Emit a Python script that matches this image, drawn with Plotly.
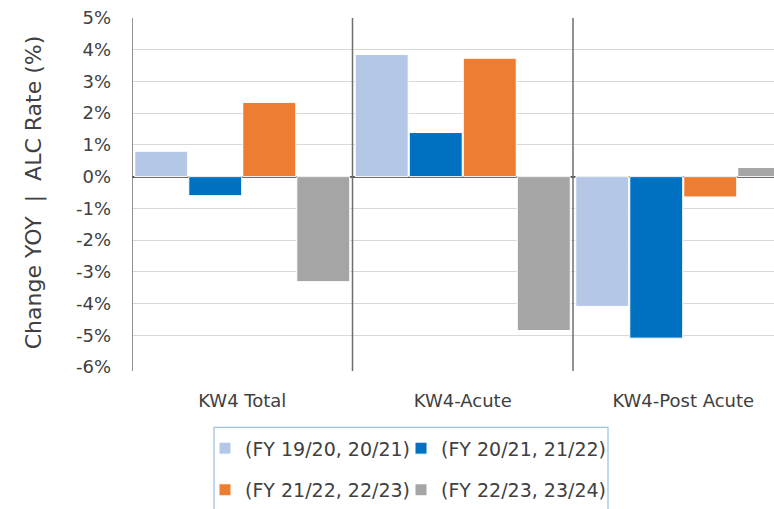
import plotly.graph_objects as go

categories = ["KW4 Total", "KW4-Acute", "KW4-Post Acute"]
series_names = ["(FY 19/20, 20/21)", "(FY 20/21, 21/22)", "(FY 21/22, 22/23)", "(FY 22/23, 23/24)"]
s1 = [0.80, 3.85, -4.09]
s2 = [-0.60, 1.39, -5.09]
s3 = [2.34, 3.73, -0.64]
s4 = [-3.31, -4.85, 0.29]
y_ticks = [5, 4, 3, 2, 1, 0, -1, -2, -3, -4, -5, -6]
y_tick_labels = [f"{v}%" for v in y_ticks]

colors = ["#B4C7E7", "#0070C0", "#ED7D31", "#A5A5A5"]
FONT = "DejaVu Sans"
TXT = "#404040"

W, H = 774, 509
ml, mr, mt, mb = 132, 0, 18, 139
pw = W - ml - mr
ph = H - mt - mb
cat_px = 220.5
x_end = -0.5 + pw / cat_px

legend_names = ["legend", "legend2", "legend3", "legend4"]

fig = go.Figure()
for i, (name, vals) in enumerate(zip(series_names, [s1, s2, s3, s4])):
    fig.add_trace(go.Bar(
        x=categories, y=vals, name=name,
        marker=dict(color=colors[i], line=dict(color="white", width=1)),
        legend=legend_names[i],
    ))

shapes = []
for k in range(len(categories)):
    shapes.append(dict(type="line", xref="x", yref="paper", x0=k - 0.5, x1=k - 0.5,
                       y0=-4 / ph, y1=1, line=dict(color="#6E6E6E", width=1.5)))
# legend border
lx0 = (214 - ml) / pw
lx1 = (608 - ml) / pw
ly1 = (mt + ph - 431) / ph
ly0 = (mt + ph - 520) / ph
shapes.append(dict(type="rect", xref="paper", yref="paper", x0=lx0, x1=lx1, y0=ly0, y1=ly1,
                   line=dict(color="#9DC3E6", width=1.25), fillcolor="rgba(0,0,0,0)", layer="below"))

col_left = [205, 401]
row_mid = [452, 494]
legends = {}
for i, ln in enumerate(legend_names):
    legends[ln] = dict(orientation="h", font=dict(family=FONT, size=19, color=TXT),
                       bgcolor="rgba(0,0,0,0)", borderwidth=0,
                       xanchor="left", yanchor="middle",
                       x=(col_left[i % 2] - ml) / pw, y=(mt + ph - row_mid[i // 2]) / ph)

fig.update_layout(
    width=W, height=H,
    margin=dict(l=ml, r=mr, t=mt, b=mb),
    paper_bgcolor="white", plot_bgcolor="white",
    barmode="group", bargap=0.02, bargroupgap=0.02,
    font=dict(family=FONT, color=TXT),
    showlegend=True,
    shapes=shapes,
    xaxis=dict(range=[-0.5, x_end], showgrid=False, showline=False, zeroline=False,
               tickfont=dict(family=FONT, size=18, color=TXT), ticks="", ticklabelstandoff=21,
               fixedrange=True),
    yaxis=dict(range=[-6, 5], tickvals=y_ticks, ticktext=y_tick_labels,
               tickfont=dict(family=FONT, size=18, color=TXT),
               showgrid=True, gridcolor="#D9D9D9", gridwidth=1,
               zeroline=True, zerolinecolor="#595959", zerolinewidth=1.5,
               showline=False, ticks="", ticklabelstandoff=20,
               title=dict(text="Change YOY  |  ALC Rate (%)", font=dict(family=FONT, size=22, color=TXT),
                          standoff=28),
               automargin=False),
    **legends,
)

fig.write_html("out.html", config={"displayModeBar": False},
               post_script="document.body.style.margin='0';document.body.style.padding='0';document.body.style.overflow='hidden';")
